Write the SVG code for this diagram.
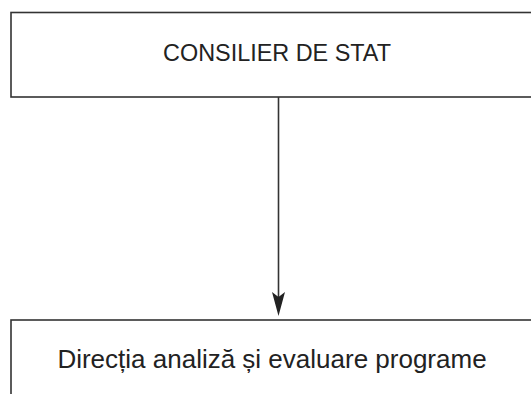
<svg xmlns="http://www.w3.org/2000/svg" width="531" height="394" viewBox="0 0 531 394">
<defs>
<style>
.box{fill:#fff;stroke:#333;stroke-width:1.6}
.lbl{font-family:"Liberation Sans",Arial,sans-serif;fill:#222;text-anchor:middle}
.conn{stroke:#333;stroke-width:1.6;fill:none}
</style>
<marker id="arr" markerUnits="userSpaceOnUse" markerWidth="16" markerHeight="26" refX="8" refY="24" orient="auto" viewBox="0 0 16 26">
<path d="M1.5,0 L8,4 L14.5,0 L8,24 Z" fill="#222" transform="rotate(0)"/>
</marker>
</defs>
<rect width="531" height="394" fill="#fff"/>
<g id="node-consilier">
<rect class="box" x="11" y="12.5" width="540" height="84.5"/>
<text class="lbl" x="277" y="61" font-size="23.4">CONSILIER DE STAT</text>
</g>
<g id="node-directia">
<rect class="box" x="11" y="320" width="540" height="100"/>
<text class="lbl" x="272" y="368" font-size="26">Direcția analiză și evaluare programe</text>
</g>
<g id="connectors">
<line class="conn" x1="278.5" y1="97" x2="278.5" y2="300"/>
<path d="M272,292 L278.5,297 L285,292 L278.5,316 Z" fill="#222"/>
</g>
</svg>
